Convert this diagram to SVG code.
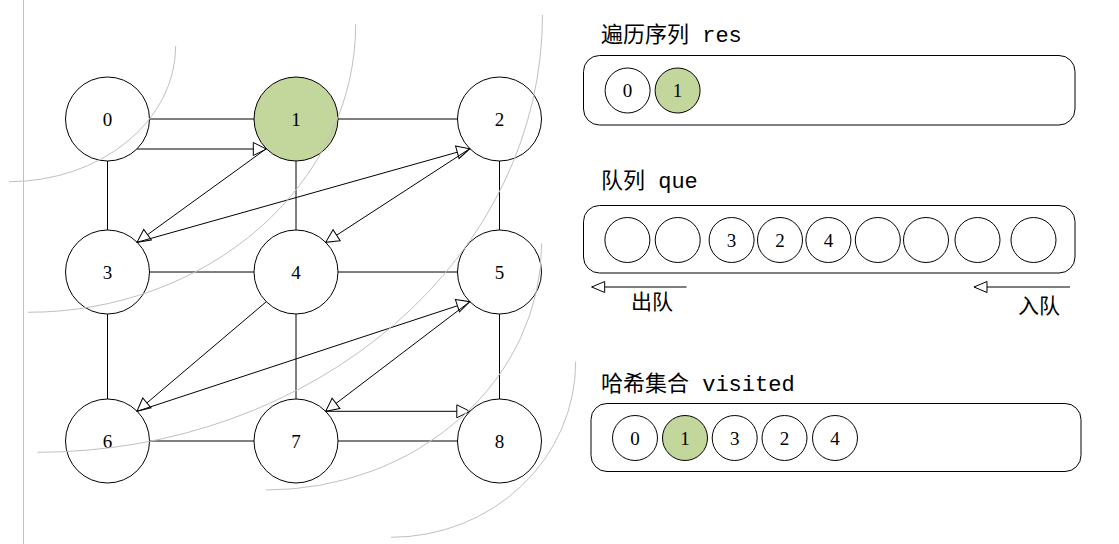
<svg xmlns="http://www.w3.org/2000/svg" width="1119" height="544" viewBox="0 0 1119 544">
<style>
.nd{fill:#fff;stroke:#000;stroke-width:1}
.hl{fill:#c3d69b}
.num{font-family:"Liberation Serif",serif;font-size:19px;text-anchor:middle;fill:#000}
.ed{stroke:#000;stroke-width:1;fill:none}
.ar{stroke:#000;stroke-width:1;fill:none;marker-end:url(#ah)}
.gr{stroke:#c0c0c0;stroke-width:1;fill:none}
.box{fill:#fff;stroke:#000;stroke-width:1}
.title{font-family:"Noto Sans CJK SC",sans-serif;font-size:22px;fill:#000}
.mono{font-family:"Liberation Mono",monospace;font-size:22px}
.lab{font-family:"Noto Sans CJK SC",sans-serif;font-size:21px;fill:#000}
</style>
<defs>
<marker id="ah" markerUnits="userSpaceOnUse" markerWidth="16" markerHeight="16" refX="13" refY="6.5" orient="auto" overflow="visible">
<path d="M0,0 L13,6.5 L0,13 z" fill="#fff" stroke="#000" stroke-width="1"/>
</marker>
<marker id="ah2" markerUnits="userSpaceOnUse" markerWidth="16" markerHeight="16" refX="13" refY="5.5" orient="auto" overflow="visible">
<path d="M0,0 L13,5.5 L0,11 z" fill="#fff" stroke="#000" stroke-width="1"/>
</marker>
</defs>
<rect width="1119" height="544" fill="#fff"/>

<g id="grid-edges">
<line class="ed" x1="149.5" y1="119" x2="254" y2="119"/>
<line class="ed" x1="338" y1="119" x2="457.5" y2="119"/>
<line class="ed" x1="107.5" y1="161" x2="107.5" y2="230"/>
<line class="ed" x1="296" y1="161" x2="296" y2="230"/>
<line class="ed" x1="499.5" y1="161" x2="499.5" y2="230"/>
<line class="ed" x1="149.5" y1="272" x2="254" y2="272"/>
<line class="ed" x1="338" y1="272" x2="457.5" y2="272"/>
<line class="ed" x1="107.5" y1="314" x2="107.5" y2="399"/>
<line class="ed" x1="296" y1="314" x2="296" y2="399"/>
<line class="ed" x1="499.5" y1="314" x2="499.5" y2="399"/>
<line class="ed" x1="149.5" y1="441" x2="254" y2="441"/>
<line class="ed" x1="338" y1="441" x2="457.5" y2="441"/>
</g>

<g id="node0"><circle class="nd" cx="107.5" cy="119" r="42"/><text class="num" x="107.5" y="125.5">0</text></g>
<g id="node1"><circle class="nd hl" cx="296" cy="119" r="42"/><text class="num" x="296" y="125.5">1</text></g>
<g id="node2"><circle class="nd" cx="499.5" cy="119" r="42"/><text class="num" x="499.5" y="125.5">2</text></g>
<g id="node3"><circle class="nd" cx="107.5" cy="272" r="42"/><text class="num" x="107.5" y="278.5">3</text></g>
<g id="node4"><circle class="nd" cx="296" cy="272" r="42"/><text class="num" x="296" y="278.5">4</text></g>
<g id="node5"><circle class="nd" cx="499.5" cy="272" r="42"/><text class="num" x="499.5" y="278.5">5</text></g>
<g id="node6"><circle class="nd" cx="107.5" cy="441" r="42"/><text class="num" x="107.5" y="447.5">6</text></g>
<g id="node7"><circle class="nd" cx="296" cy="441" r="42"/><text class="num" x="296" y="447.5">7</text></g>
<g id="node8"><circle class="nd" cx="499.5" cy="441" r="42"/><text class="num" x="499.5" y="447.5">8</text></g>

<g id="connectors">
<line class="ar" x1="137" y1="149" x2="266.3" y2="149"/>
<line class="ar" x1="266.3" y1="148.7" x2="137" y2="242.3"/>
<line class="ar" x1="137" y1="242.3" x2="469.8" y2="148.7"/>
<line class="ar" x1="469.8" y1="148.7" x2="325.7" y2="242.3"/>
<line class="ar" x1="266.3" y1="301.7" x2="137" y2="411.3"/>
<line class="ar" x1="137" y1="411.3" x2="469.8" y2="301.7"/>
<line class="ar" x1="469.8" y1="301.7" x2="325.7" y2="411.3"/>
<line class="ar" x1="325.7" y1="411.3" x2="469.8" y2="411.3"/>
</g>

<g id="arcs">
<line class="gr" x1="23.5" y1="0" x2="23.5" y2="544"/>
<path class="gr" d="M175.7,46 A166.7,135.7 0 0 1 9,181.7"/>
<path class="gr" d="M355.7,24 A327.7,288.3 0 0 1 28,312.3"/>
<path class="gr" d="M542.5,15 A505,437.3 0 0 1 37.5,452.3"/>
<path class="gr" d="M541.7,243.3 A275.7,246.7 0 0 1 266,490"/>
<path class="gr" d="M575.7,361.7 A184.7,175.6 0 0 1 391,537.3"/>
</g>

<g id="res">
<text class="title" x="601" y="42">遍历序列<tspan class="mono"> res</tspan></text>
<rect class="box" x="583.5" y="55.5" width="491.5" height="69.5" rx="16"/>
<g id="res-0"><circle class="nd" cx="627.6" cy="90.5" r="22.5"/><text class="num" x="627.6" y="97">0</text></g>
<g id="res-1"><circle class="nd hl" cx="677.6" cy="90.5" r="22.5"/><text class="num" x="677.6" y="97">1</text></g>
</g>

<g id="queue">
<text class="title" x="601" y="188">队列<tspan class="mono"> que</tspan></text>
<rect class="box" x="583.5" y="205.5" width="491.5" height="67.5" rx="16"/>
<g id="q-0"><circle class="nd" cx="627.4" cy="240" r="22.5"/></g>
<g id="q-1"><circle class="nd" cx="677.7" cy="240" r="22.5"/></g>
<g id="q-2"><circle class="nd" cx="731.6" cy="240" r="22.5"/><text class="num" x="731.6" y="246.5">3</text></g>
<g id="q-3"><circle class="nd" cx="780" cy="240" r="22.5"/><text class="num" x="780" y="246.5">2</text></g>
<g id="q-4"><circle class="nd" cx="828.4" cy="240" r="22.5"/><text class="num" x="828.4" y="246.5">4</text></g>
<g id="q-5"><circle class="nd" cx="877.8" cy="240" r="22.5"/></g>
<g id="q-6"><circle class="nd" cx="926" cy="240" r="22.5"/></g>
<g id="q-7"><circle class="nd" cx="977.5" cy="240" r="22.5"/></g>
<g id="q-8"><circle class="nd" cx="1033.5" cy="240" r="22.5"/></g>
<g id="dequeue">
<line class="ed" x1="686.6" y1="287" x2="591.7" y2="287" marker-end="url(#ah2)"/>
<text class="lab" x="631" y="309">出队</text>
</g>
<g id="enqueue">
<line class="ed" x1="1070" y1="287" x2="974" y2="287" marker-end="url(#ah2)"/>
<text class="lab" x="1018" y="313">入队</text>
</g>
</g>

<g id="visited">
<text class="title" x="601" y="391">哈希集合<tspan class="mono"> visited</tspan></text>
<rect class="box" x="591" y="403.5" width="490" height="68" rx="16"/>
<g id="v-0"><circle class="nd" cx="635" cy="438" r="22.5"/><text class="num" x="635" y="444.5">0</text></g>
<g id="v-1"><circle class="nd hl" cx="685" cy="438" r="22.5"/><text class="num" x="685" y="444.5">1</text></g>
<g id="v-3"><circle class="nd" cx="734.7" cy="438" r="22.5"/><text class="num" x="734.7" y="444.5">3</text></g>
<g id="v-2"><circle class="nd" cx="784.5" cy="438" r="22.5"/><text class="num" x="784.5" y="444.5">2</text></g>
<g id="v-4"><circle class="nd" cx="835" cy="438" r="22.5"/><text class="num" x="835" y="444.5">4</text></g>
</g>
</svg>
